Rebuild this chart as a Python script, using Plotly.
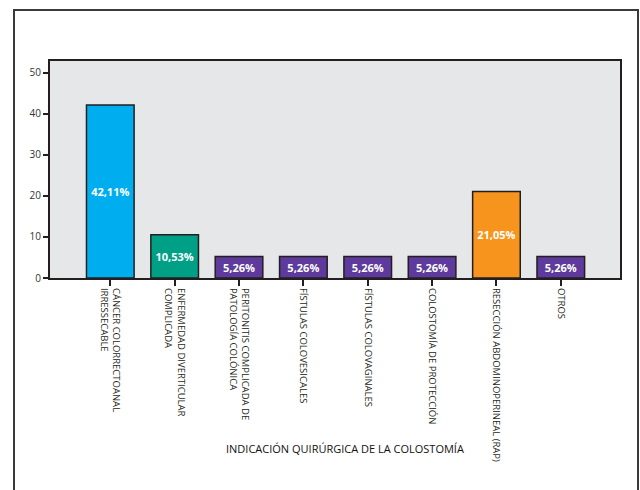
import plotly.graph_objects as go

# Indicaciones quirúrgicas de la colostomía (% de pacientes)
categorias = [
    "CÁNCER COLORRECTOANAL<br>IRRESSECABLE",
    "ENFERMEDAD DIVERTICULAR<br>COMPLICADA",
    "PERITONITIS COMPLICADA DE<br>PATOLOGÍA COLÓNICA",
    "FÍSTULAS COLOVESICALES",
    "FÍSTULAS COLOVAGINALES",
    "COLOSTOMÍA DE PROTECCIÓN",
    "RESECCIÓN ABDOMINOPERINEAL (RAP)",
    "OTROS",
]
porcentajes = [42.11, 10.53, 5.26, 5.26, 5.26, 5.26, 21.05, 5.26]
colores = ["#00AEEF", "#00A087", "#5E3A9C", "#5E3A9C",
           "#5E3A9C", "#5E3A9C", "#F7941D", "#5E3A9C"]
y_ticks = [0, 10, 20, 30, 40, 50]
titulo_x = "INDICACIÓN QUIRÚRGICA DE LA COLOSTOMÍA"

FONT = "Liberation Sans Narrow, Open Sans, sans-serif"
DARK = "#231F20"

fig = go.Figure(
    go.Bar(
        x=list(range(len(categorias))),
        y=porcentajes,
        width=0.74,
        marker=dict(color=colores, line=dict(color=DARK, width=1.5)),
        texttemplate="<b>%{y:.2f}%</b>",
        textposition="inside",
        insidetextanchor="middle",
        textangle=0,
        textfont=dict(color="white", size=11, family="Open Sans, sans-serif"),
        hoverinfo="skip",
    )
)

# Plot-area geometry in pixels, used to place the frame and title in paper units
L, R, T, B, W, H = 50, 20, 61, 212, 640, 490
pw, ph = W - L - R, H - T - B


def px_x(x):
    return (x - L) / pw


def px_y(y):
    return (H - B - y) / ph


fig.add_shape(
    type="rect", xref="paper", yref="paper",
    x0=px_x(14), x1=px_x(638), y0=px_y(500), y1=px_y(10),
    line=dict(color="#3a3a3a", width=2), fillcolor="rgba(0,0,0,0)",
    layer="below",
)

fig.add_annotation(
    text=titulo_x, xref="paper", yref="paper",
    x=px_x(345), y=px_y(448), xanchor="center", yanchor="middle",
    showarrow=False,
    font=dict(family=FONT, size=11, color="#111111"),
)

fig.update_layout(
    width=W, height=H,
    margin=dict(l=L, r=R, t=T, b=B),
    paper_bgcolor="white",
    plot_bgcolor="#E6E7E8",
    separators=",.",
    showlegend=False,
    xaxis=dict(
        range=[-0.937, 7.92],
        tickmode="array",
        tickvals=list(range(len(categorias))),
        ticktext=categorias,
        tickangle=90,
        ticks="outside", ticklen=6, tickwidth=2, tickcolor=DARK,
        tickfont=dict(family=FONT, size=9.5, color=DARK),
        showline=True, linecolor=DARK, linewidth=2, mirror=True,
        showgrid=False, zeroline=False,
        automargin=False,
    ),
    yaxis=dict(
        range=[0, 52.8],
        tickmode="array",
        tickvals=y_ticks,
        ticks="outside", ticklen=5, tickwidth=2, tickcolor=DARK,
        tickfont=dict(family=FONT, size=10, color="#333333"),
        showline=True, linecolor=DARK, linewidth=2, mirror=True,
        showgrid=False, zeroline=False,
        automargin=False,
    ),
)

fig.write_html("out.html")
